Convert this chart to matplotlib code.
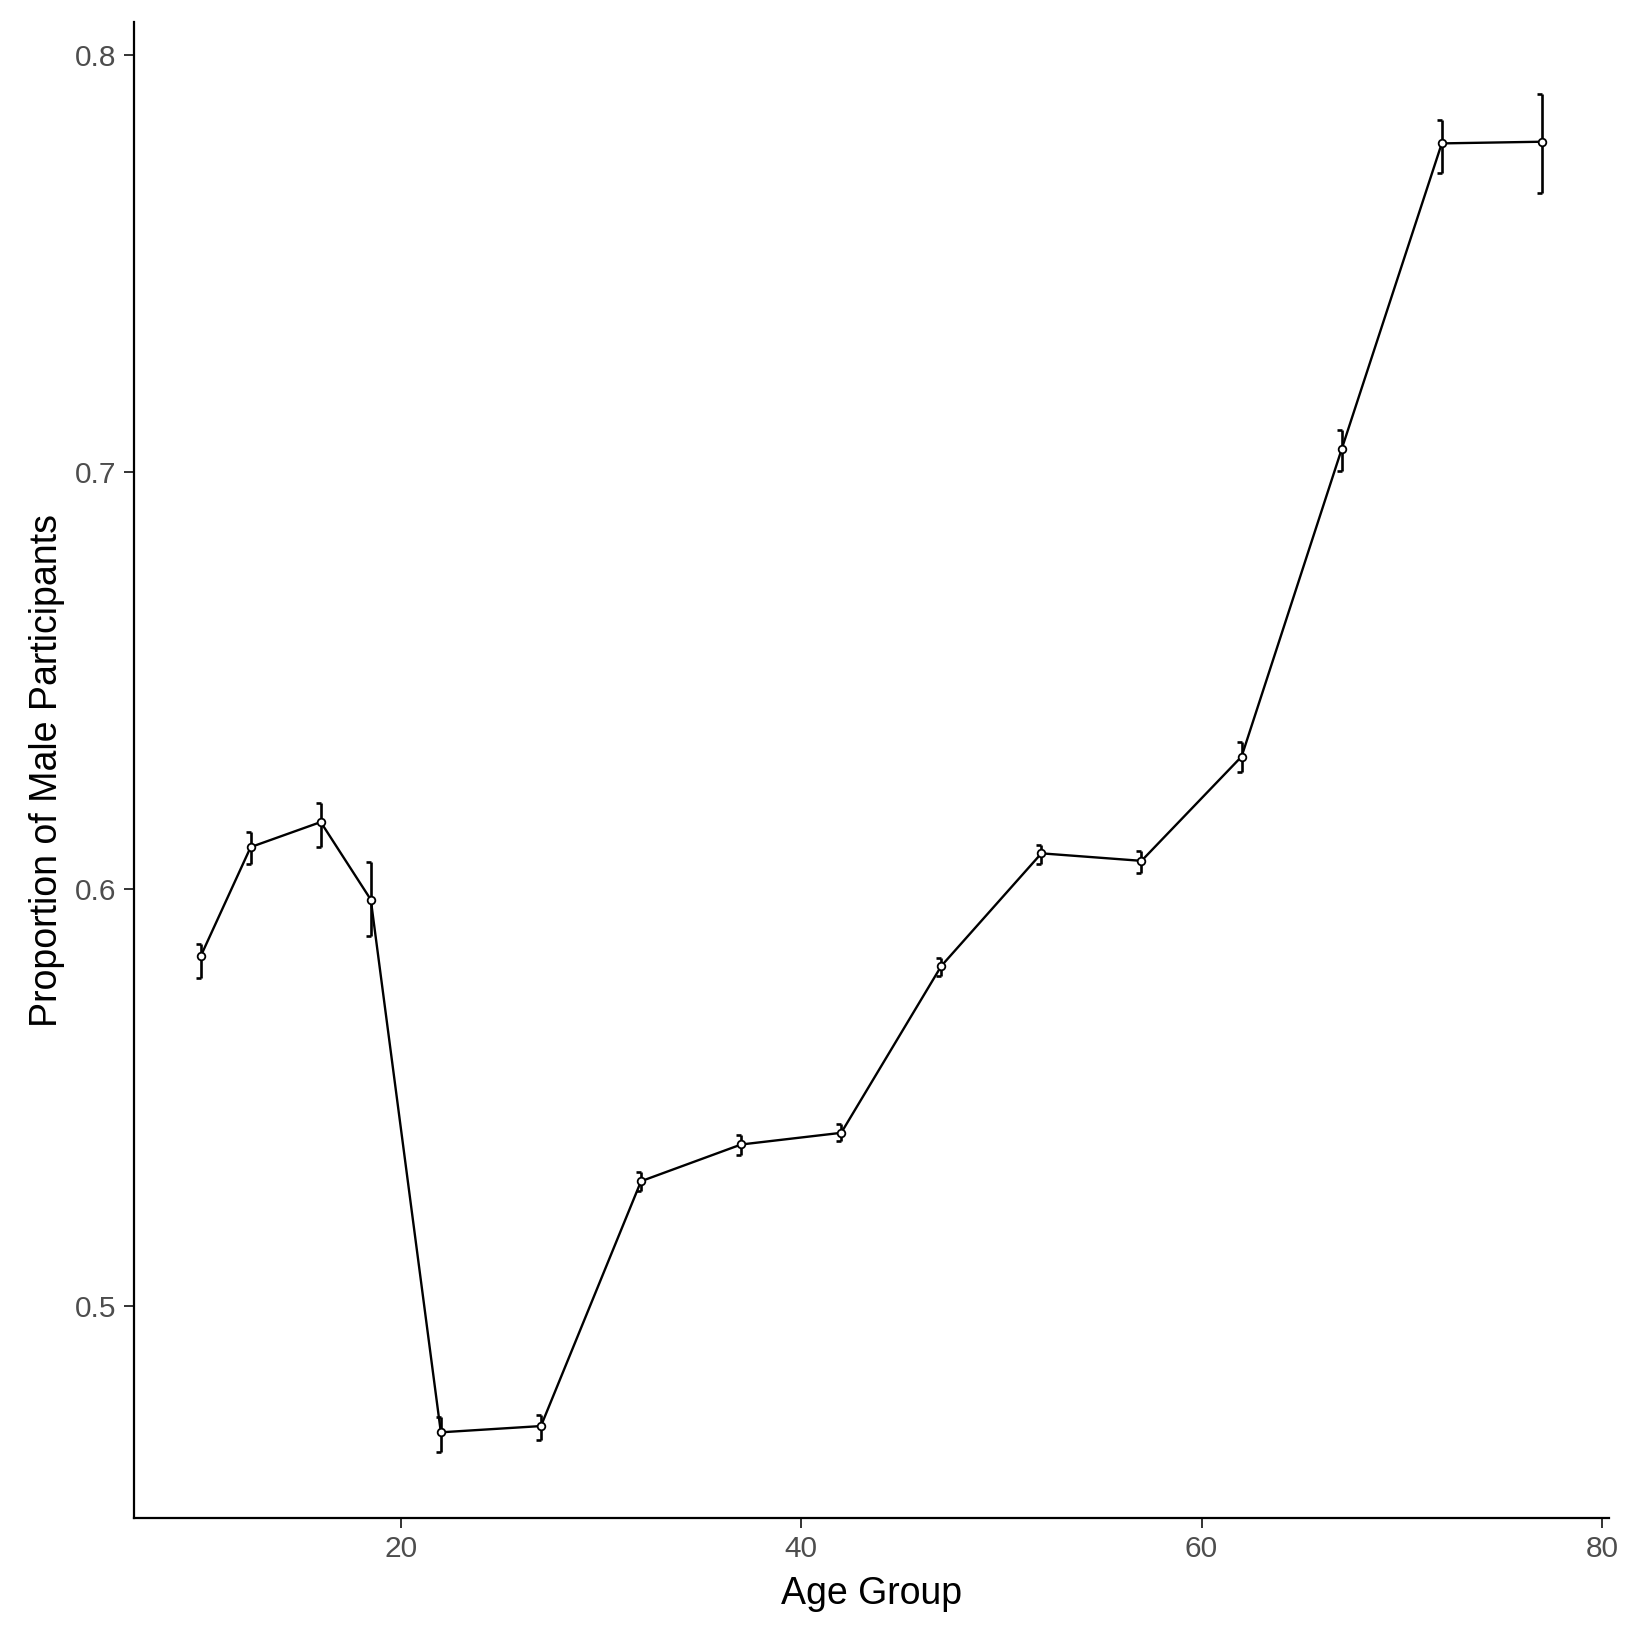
import matplotlib
matplotlib.use("Agg")
import matplotlib.pyplot as plt
import numpy as np

age_group = [10, 12.5, 16, 18.5, 22, 27, 32, 37, 42, 47, 52, 57, 62, 67, 72, 77]
prop_male = [0.5839, 0.6101, 0.6161, 0.5975, 0.4698, 0.4713, 0.5300, 0.5388,
             0.5416, 0.5816, 0.6086, 0.6068, 0.6318, 0.7055, 0.7788, 0.7792]
err_upper = [0.5869, 0.6136, 0.6207, 0.6066, 0.4735, 0.4740, 0.5323, 0.5411,
             0.5436, 0.5836, 0.6106, 0.6091, 0.6353, 0.7101, 0.7845, 0.7907]
err_lower = [0.5788, 0.6060, 0.6101, 0.5889, 0.4652, 0.4680, 0.5277, 0.5363,
             0.5396, 0.5791, 0.6060, 0.6038, 0.6280, 0.7003, 0.7716, 0.7670]
x_ticks = [20, 40, 60, 80]
y_ticks = [0.5, 0.6, 0.7, 0.8]
y_tick_labels = ["0.5", "0.6", "0.7", "0.8"]

plt.rcParams['font.family'] = ['Liberation Sans', 'DejaVu Sans']

fig = plt.figure(figsize=(16.49, 16.37), dpi=100)
ax = fig.add_axes([0.081, 0.0728, 0.8947, 0.9135])

x = np.array(age_group)
y = np.array(prop_male)
lo = np.array(err_lower)
hi = np.array(err_upper)

ax.plot(x, y, color='black', lw=1.7, zorder=2)
ax.vlines(x, lo, hi, color='black', lw=1.9, zorder=3)
cap_w = 0.25
ax.hlines(hi, x - cap_w, x, color='black', lw=1.9, zorder=3)
ax.hlines(lo, x - cap_w, x, color='black', lw=1.9, zorder=3)
ax.plot(x, y, linestyle='none', marker='o', markersize=5.5,
        markerfacecolor='white', markeredgecolor='black', markeredgewidth=1.3, zorder=4)

ax.set_xlim(6.65, 80.35)
ax.set_ylim(0.4493, 0.8078)
ax.set_xticks(x_ticks)
ax.set_yticks(y_ticks)
ax.set_yticklabels(y_tick_labels)

for s in ['top', 'right']:
    ax.spines[s].set_visible(False)
for s in ['left', 'bottom']:
    ax.spines[s].set_linewidth(1.6)
    ax.spines[s].set_color('black')

ax.tick_params(axis='both', length=7.5, width=1.4, color='#333333',
               labelcolor='#4D4D4D', labelsize=21.5, pad=5)

ax.set_xlabel("Age Group", fontsize=27, color='black', labelpad=9)
ax.set_ylabel("Proportion of Male Participants", fontsize=27, color='black', labelpad=7)

fig.savefig("out.png", dpi=100, facecolor='white')
